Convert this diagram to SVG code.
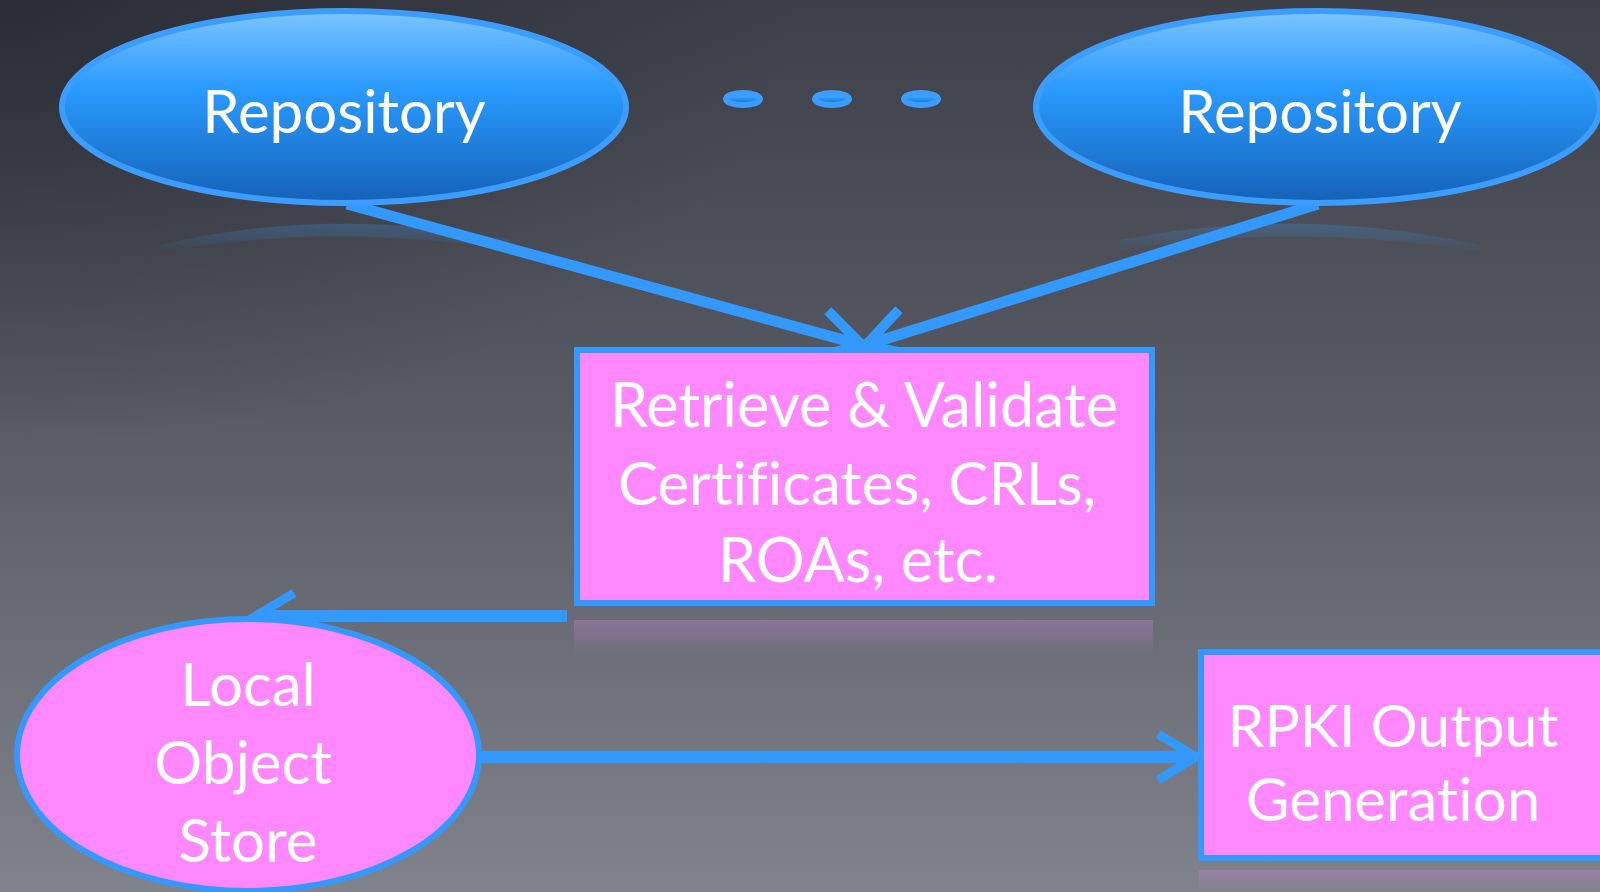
<svg xmlns="http://www.w3.org/2000/svg" width="1600" height="892" viewBox="0 0 1600 892">
<defs>
<linearGradient id="bg" x1="0" y1="0" x2="0" y2="1">
<stop offset="0" stop-color="#3d4049"/>
<stop offset="0.45" stop-color="#575a63"/>
<stop offset="1" stop-color="#80838b"/>
</linearGradient>
<radialGradient id="vig" cx="0" cy="0" r="1" gradientUnits="objectBoundingBox">
<stop offset="0" stop-color="#1e2028" stop-opacity="0.6"/>
<stop offset="0.5" stop-color="#1e2028" stop-opacity="0"/>
</radialGradient>
<linearGradient id="blue" x1="0" y1="0" x2="0" y2="1">
<stop offset="0" stop-color="#7cc4ff"/>
<stop offset="0.4" stop-color="#2a9bff"/>
<stop offset="1" stop-color="#1561b8"/>
</linearGradient>
<linearGradient id="reflB" x1="0" y1="0" x2="0" y2="1">
<stop offset="0" stop-color="#3a8fe0" stop-opacity="0.3"/>
<stop offset="1" stop-color="#3a8fe0" stop-opacity="0"/>
</linearGradient>
<linearGradient id="reflP" x1="0" y1="0" x2="0" y2="1">
<stop offset="0" stop-color="#c080d0" stop-opacity="0.4"/>
<stop offset="1" stop-color="#c080d0" stop-opacity="0"/>
</linearGradient>
<marker id="chev" markerUnits="userSpaceOnUse" viewBox="-50 -32 60 64" markerWidth="60" markerHeight="64" refX="0" refY="0" orient="auto">
<path d="M -38,-23 L 0,0 L -38,23" fill="none" stroke="#3399ff" stroke-width="9"/>
</marker>
<marker id="chev2" markerUnits="userSpaceOnUse" viewBox="-50 -32 60 64" markerWidth="60" markerHeight="64" refX="0" refY="0" orient="auto">
<path d="M -42,-24 L 0,0 L -42,24" fill="none" stroke="#3399ff" stroke-width="10"/>
</marker>
<style>
.lbl{font-family:Lato,"Open Sans",sans-serif;fill:#ffffff;text-anchor:middle;font-variant-ligatures:none}
.blueNode{fill:url(#blue);stroke:#3d9dff;stroke-width:6}
.pinkNode{fill:#ff88ff;stroke:#3399ff;stroke-width:6}
.conn{fill:none;stroke:#3399ff;marker-end:url(#chev)}
.diag{fill:none;stroke:#3399ff;stroke-width:11;marker-end:url(#chev2)}
</style>
</defs>
<rect width="1600" height="892" fill="url(#bg)"/>
<rect width="1600" height="892" fill="url(#vig)"/>
<!-- reflections -->
<path d="M 160 245 Q 330 205 510 240 L 510 250 Q 330 222 160 252 Z" fill="url(#reflB)"/>
<path d="M 1120 240 Q 1300 205 1480 245 L 1480 252 Q 1300 222 1120 250 Z" fill="url(#reflB)"/>
<rect x="574" y="620" width="579" height="35" fill="url(#reflP)"/>
<rect x="1199" y="870" width="401" height="22" fill="url(#reflP)"/>

<g id="connectors">
<line class="diag" x1="347" y1="204" x2="862" y2="345"/>
<line class="diag" x1="1318" y1="204" x2="866" y2="345"/>
<line class="conn" x1="567" y1="616" x2="256" y2="616" stroke-width="12"/>
<line class="conn" x1="480" y1="757" x2="1196" y2="757" stroke-width="12"/>
</g>

<g id="repo-left">
<ellipse class="blueNode" cx="344" cy="107" rx="282" ry="96"/>
<text class="lbl" x="344" y="133" font-size="60">Repository</text>
</g>
<g id="dots">
<ellipse class="blueNode" cx="743" cy="99" rx="17" ry="6" stroke-width="3"/>
<ellipse class="blueNode" cx="832" cy="99" rx="17" ry="6" stroke-width="3"/>
<ellipse class="blueNode" cx="921" cy="99" rx="17" ry="6" stroke-width="3"/>
</g>
<g id="repo-right">
<ellipse class="blueNode" cx="1318" cy="107" rx="282" ry="96"/>
<text class="lbl" x="1320" y="133" font-size="60">Repository</text>
</g>
<g id="retrieve">
<rect class="pinkNode" x="577" y="350" width="575" height="253"/>
<text class="lbl" x="864" y="427" font-size="61">Retrieve &amp; Validate</text>
<text class="lbl" x="857" y="505" font-size="60">Certificates, CRLs,</text>
<text class="lbl" x="858" y="582" font-size="61">ROAs, etc.</text>
</g>
<g id="local-store">
<ellipse class="pinkNode" cx="248" cy="755" rx="231" ry="136"/>
<text class="lbl" x="248" y="706" font-size="60">Local</text>
<text class="lbl" x="243" y="784" font-size="60">Object</text>
<text class="lbl" x="248" y="862" font-size="60">Store</text>
</g>
<g id="rpki-output">
<rect class="pinkNode" x="1201" y="652" width="405" height="206"/>
<text class="lbl" x="1393" y="747" font-size="59">RPKI Output</text>
<text class="lbl" x="1393" y="821" font-size="60">Generation</text>
</g>
</svg>
